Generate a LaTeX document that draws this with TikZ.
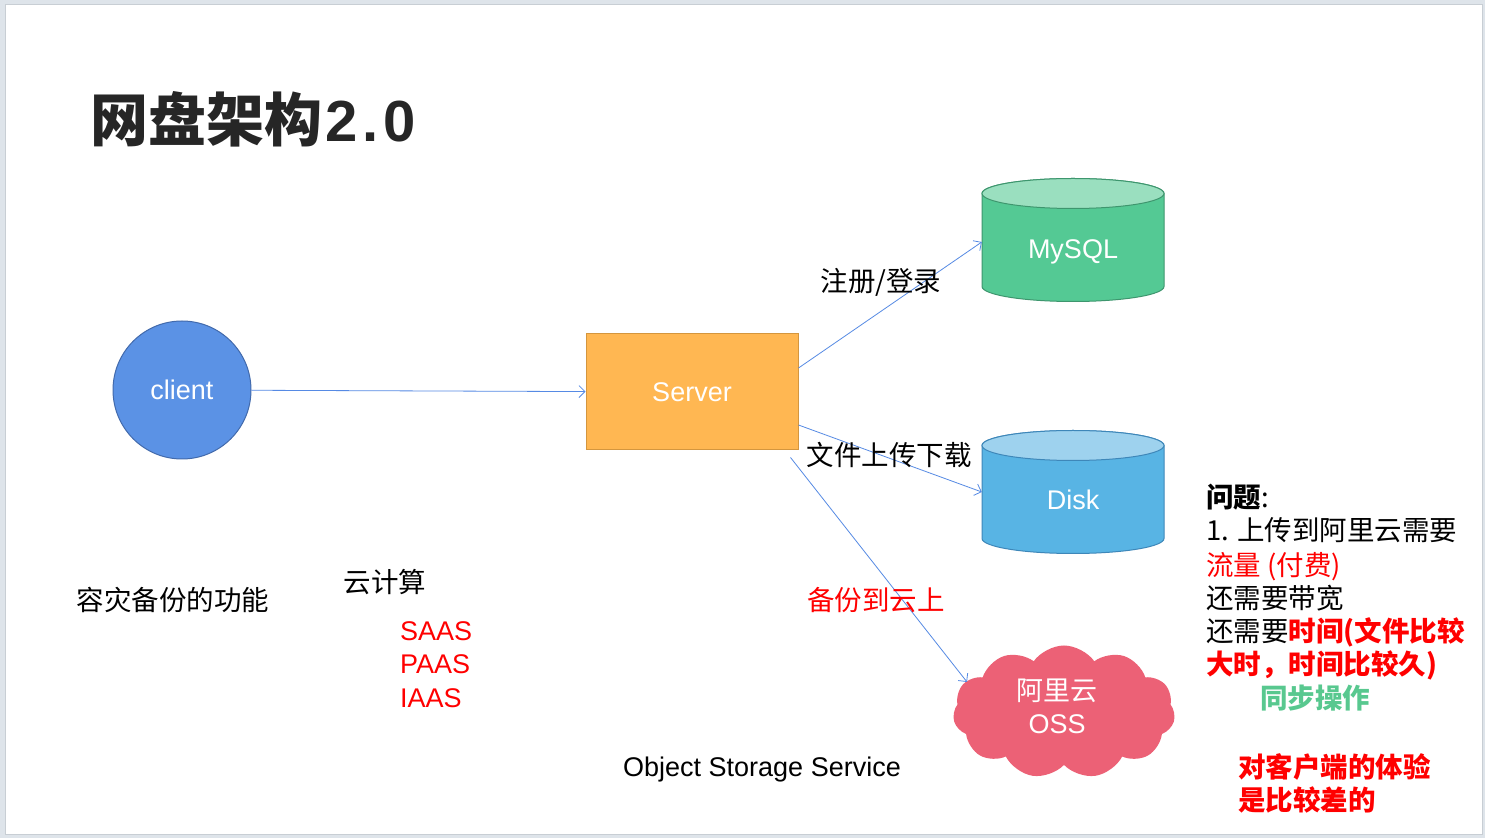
\documentclass[tikz,border=0pt]{standalone}
\usepackage{fontspec}
\setmainfont{Liberation Sans}
\newfontfamily\cjk{Noto Sans CJK SC}
\usetikzlibrary{arrows.meta,shapes.symbols}
\definecolor{bgc}{RGB}{222,228,234}
\definecolor{slideb}{RGB}{200,206,212}
\definecolor{titlec}{RGB}{38,38,38}
\definecolor{arrowc}{RGB}{86,138,228}
\definecolor{clientc}{RGB}{91,146,229}
\definecolor{clientb}{RGB}{66,106,172}
\definecolor{serverc}{RGB}{255,183,82}
\definecolor{serverb}{RGB}{212,150,62}
\definecolor{mysqlc}{RGB}{84,201,148}
\definecolor{mysqlt}{RGB}{154,223,191}
\definecolor{mysqlb}{RGB}{62,150,110}
\definecolor{diskc}{RGB}{88,180,228}
\definecolor{diskt}{RGB}{158,210,238}
\definecolor{diskb}{RGB}{62,135,185}
\definecolor{cloudc}{RGB}{236,97,118}
\definecolor{greenc}{RGB}{88,200,143}
\begin{document}
\begin{tikzpicture}[x=1pt,y=1pt,
  txt/.style={font=\cjk\fontsize{27.5}{33}\selectfont, inner sep=0pt},
  boldtxt/.style={font=\cjk\bfseries\fontsize{27.5}{33}\selectfont, inner sep=0pt},
  lat/.style={font=\fontsize{27}{33}\selectfont, inner sep=0pt},
  conn/.style={draw=arrowc, line width=0.8pt, -{Straight Barb[length=6pt,width=12pt]}},
  shapeline/.style={line width=1pt}
]
\useasboundingbox (0,0) rectangle (1485,838);
\fill[bgc] (0,0) rectangle (1485,838);
\filldraw[fill=white, draw=slideb, line width=0.8pt] (5,4) rectangle (1482,834);

% title
\node[anchor=base west, inner sep=0pt, font=\cjk\bfseries\fontsize{58}{60}\selectfont, text=titlec] (title) at (90,696) {网盘架构{\fontspec{Liberation Sans}\bfseries\kern3pt 2\kern5pt.\kern5pt0}};

% client and server
\node[circle, fill=clientc, draw=clientb, shapeline, minimum size=138, text=white, lat, text height=19.3pt, text depth=0pt] (client) at (182,448) {client};
\node[rectangle, fill=serverc, draw=serverb, shapeline, minimum width=212, minimum height=116, text=white, lat, text height=19.3pt, text depth=0pt] (server) at (692,446) {Server};

% MySQL cylinder
\path[fill=mysqlc, draw=mysqlb, shapeline] (982,644.5) -- (982,551.5) arc[start angle=180,end angle=360,x radius=91,y radius=15] -- (1164,644.5) arc[start angle=0,end angle=180,x radius=91,y radius=15] -- cycle;
\path[fill=mysqlt, draw=mysqlb, shapeline] (1073,644.5) ellipse[x radius=91, y radius=15];
\node[minimum width=182, minimum height=123, text=white, lat, text height=37pt, text depth=0pt] (mysql) at (1073,598) {MySQL};

% Disk cylinder
\path[fill=diskc, draw=diskb, shapeline] (982,392.5) -- (982,299.5) arc[start angle=180,end angle=360,x radius=91,y radius=15] -- (1164,392.5) arc[start angle=0,end angle=180,x radius=91,y radius=15] -- cycle;
\path[fill=diskt, draw=diskb, shapeline] (1073,392.5) ellipse[x radius=91, y radius=15];
\node[minimum width=182, minimum height=123, text=white, lat, text height=35.4pt, text depth=0pt] (disk) at (1073,346) {Disk};

% cloud
\node[cloud, cloud puffs=11, cloud puff arc=110, cloud ignores aspect, minimum width=222, minimum height=133, fill=cloudc, inner sep=0pt] (oss) at (1064,126) {};
\node[txt, anchor=base, text=white, font=\cjk\fontsize{27}{33}\selectfont] (osstext1) at (1057,137) {阿里云};
\node[lat, anchor=base, text=white] (osstext2) at (1057,104.3) {OSS};

% connectors
\draw[conn] (client) -- (server);
\draw[conn] ([yshift=24pt]server.east) -- ([yshift=-2pt]mysql.west);
\draw[conn] ([yshift=-33pt]server.east) -- (disk.west);
\draw[conn] ([xshift=-8pt,yshift=-7pt]server.south east) -- ([xshift=-97pt,yshift=30pt]oss.center);

% labels
\node[txt, anchor=base] (reglabel) at (881,546) {注册/登录};
\node[txt, anchor=base] (filelabel) at (889,372) {文件上传下载};
\node[txt, anchor=base, text=red] (backuplabel) at (876,227) {备份到云上};
\node[txt, anchor=base] (dr) at (173,227) {容灾备份的功能};
\node[txt, anchor=base] (cloudcalc) at (385,245) {云计算};
\node[lat, anchor=base west, text=red] (saas) at (400,197) {SAAS};
\node[lat, anchor=base west, text=red] (paas) at (400,164) {PAAS};
\node[lat, anchor=base west, text=red] (iaas) at (400,131) {IAAS};
\node[lat, anchor=base] (oss-text) at (762,62) {Object Storage Service};

% right notes
\node[txt, anchor=base west] (q0) at (1206,330) {{\bfseries 问题}:};
\node[txt, anchor=base west] (q1) at (1206,297) {1. 上传到阿里云需要};
\node[txt, anchor=base west, text=red] (q2) at (1206,262) {流量 (付费)};
\node[txt, anchor=base west] (q3) at (1206,229) {还需要带宽};
\node[txt, anchor=base west] (q4) at (1206,196) {还需要\textcolor{red}{\bfseries 时间(文件比较}};
\node[boldtxt, anchor=base west, text=red] (q5) at (1206,163) {大时，时间比较久)};
\node[boldtxt, anchor=base west, text=greenc] (q6) at (1260,130) {同步操作};
\node[boldtxt, anchor=base west, text=red] (q7) at (1238,61) {对客户端的体验};
\node[boldtxt, anchor=base west, text=red] (q8) at (1238,28) {是比较差的};
\end{tikzpicture}
\end{document}
